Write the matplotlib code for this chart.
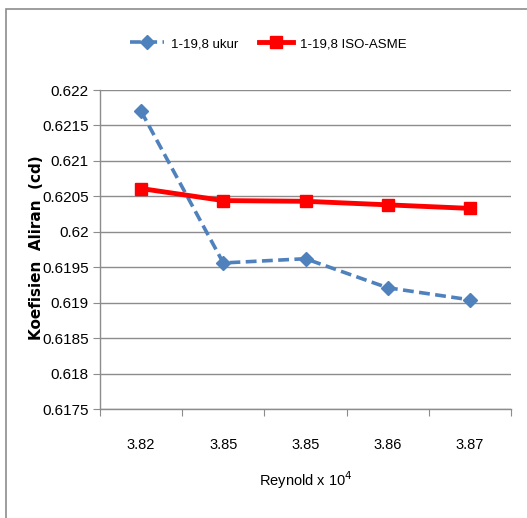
import matplotlib.pyplot as plt
from matplotlib.patches import Rectangle
import numpy as np

categories = ["3.82", "3.85", "3.85", "3.86", "3.87"]
ukur = [0.62170, 0.61956, 0.61962, 0.61921, 0.61904]
iso_asme = [0.62061, 0.62044, 0.62043, 0.62038, 0.62033]
y_ticks = [0.6175, 0.618, 0.6185, 0.619, 0.6195, 0.62, 0.6205, 0.621, 0.6215, 0.622]
y_labels = ["0.6175", "0.618", "0.6185", "0.619", "0.6195", "0.62", "0.6205", "0.621", "0.6215", "0.622"]

plt.rcParams["font.family"] = ["Liberation Sans", "DejaVu Sans"]

fig = plt.figure(figsize=(5.27, 5.18), dpi=100)
fig.patches.append(Rectangle((6 / 527, -0.01), 1.2, 1 - 9 / 518 + 0.01, transform=fig.transFigure,
                             fill=False, edgecolor="#8c8c8c", linewidth=1.2))
ax = fig.add_axes([100 / 527, 1 - 409 / 518, 411 / 527, 319 / 518])

x = np.arange(1, len(categories) + 1)
ax.plot(x, ukur, color="#4f81bd", linestyle=(0, (3, 1.5)), linewidth=2.6,
        marker="D", markersize=7, label="1-19,8 ukur", zorder=3)
ax.plot(x, iso_asme, color="#ff0000", linewidth=3.5,
        marker="s", markersize=9, label="1-19,8 ISO-ASME", zorder=4)

ax.set_xlim(0.5, len(categories) + 0.5)
ax.set_ylim(0.6175, 0.622)
ax.set_yticks(y_ticks)
ax.set_yticklabels(y_labels)
ax.set_xticks(np.arange(0.5, len(categories) + 1))
ax.set_xticklabels([])
ax.set_xticks(x, minor=True)
ax.set_xticklabels(categories, minor=True)
ax.tick_params(axis="x", which="minor", length=0, pad=21, labelsize=10.5)
ax.tick_params(axis="x", which="major", length=5, color="#8c8c8c")
ax.tick_params(axis="y", length=5, color="#8c8c8c", labelsize=11, pad=3)
ax.grid(axis="y", color="#8c8c8c", linewidth=1)
ax.set_axisbelow(True)
for s in ["top", "right"]:
    ax.spines[s].set_visible(False)
for s in ["left", "bottom"]:
    ax.spines[s].set_color("#8c8c8c")
    ax.spines[s].set_linewidth(1)

ax.set_ylabel("Koefisien  Aliran  (cd)", fontsize=11, fontweight="bold",
              family=["DejaVu Sans"])
ax.yaxis.set_label_coords(-0.137, 0.505)
ax.set_xlabel("Reynold x 10$^{4}$", fontsize=10.5, labelpad=12)

ax.legend(loc="center", bbox_to_anchor=(168 / 411, 1 + 46 / 319), ncol=2, frameon=False,
          fontsize=9.5, handlelength=2.6, columnspacing=1.6, handletextpad=0.5)

fig.savefig("out.png", dpi=100)
